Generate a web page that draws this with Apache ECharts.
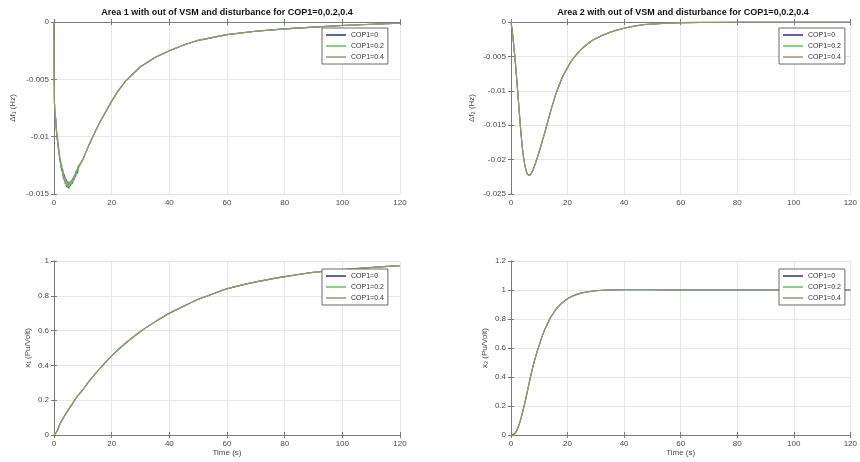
<!DOCTYPE html>
<html>
<head>
<meta charset="utf-8">
<script src="https://cdn.jsdelivr.net/npm/echarts@6/dist/echarts.min.js"></script>
<style>html,body{margin:0;padding:0;background:#fff}#c{width:860px;height:462px}</style>
</head>
<body>
<div id="c"></div>
<script>
// ---------- data ----------
const seriesNames = ['COP1=0', 'COP1=0.2', 'COP1=0.4'];
const xTicks = [0, 20, 40, 60, 80, 100, 120];

// Area 1 frequency deviation
const tA1 = [0, 0.05, 0.15, 0.3, 0.6, 0.9, 1.2, 1.5, 1.8, 2.1, 2.4, 2.7, 3.0, 3.3, 3.6, 3.9, 4.2, 4.5, 4.8, 5.1, 5.4, 5.7, 6.0, 6.3, 6.6, 6.9, 7.2, 7.5, 7.8, 8.1, 8.4, 8.7, 9.0, 10, 12, 14, 16, 18, 20, 22, 25, 30, 35, 40, 45, 50, 60, 70, 80, 90, 100, 110, 120];
const dF1_c0 = [0, -0.0045, -0.0070, -0.0080, -0.0084, -0.0097, -0.0098, -0.0110, -0.0110, -0.0121, -0.0120, -0.0130, -0.0128, -0.0137, -0.0133, -0.0141, -0.0137, -0.0144, -0.0139, -0.0145, -0.0140, -0.0143, -0.0138, -0.0141, -0.0136, -0.0138, -0.0133, -0.0135, -0.0129, -0.0132, -0.0126, -0.0127, -0.0124, -0.0120, -0.0108, -0.0097, -0.0087, -0.0078, -0.0069, -0.0061, -0.0051, -0.0039, -0.0031, -0.0025, -0.0020, -0.0016, -0.0011, -0.0008, -0.0006, -0.00045, -0.0003, -0.0002, -0.0001];
const dF1_c2 = [0, -0.0045, -0.0070, -0.0076, -0.0090, -0.0091, -0.0104, -0.0104, -0.0116, -0.0115, -0.0126, -0.0124, -0.0134, -0.0131, -0.0139, -0.0135, -0.0143, -0.0138, -0.0145, -0.0139, -0.0145, -0.0139, -0.0142, -0.0137, -0.0140, -0.0134, -0.0137, -0.0131, -0.0133, -0.0128, -0.0130, -0.0125, -0.0125, -0.0120, -0.0108, -0.0097, -0.0087, -0.0078, -0.0069, -0.0061, -0.0051, -0.0039, -0.0031, -0.0025, -0.0020, -0.0016, -0.0011, -0.0008, -0.0006, -0.00045, -0.0003, -0.0002, -0.0001];
const dF1_c4 = [0, -0.0045, -0.0070, -0.0078, -0.0086, -0.0095, -0.0100, -0.0108, -0.0112, -0.0119, -0.0122, -0.0128, -0.0130, -0.0135, -0.0135, -0.0139, -0.0139, -0.0142, -0.0141, -0.0143, -0.0141, -0.0142, -0.0139, -0.0140, -0.0137, -0.0137, -0.0134, -0.0134, -0.0130, -0.0131, -0.0127, -0.0126, -0.0125, -0.0120, -0.0108, -0.0097, -0.0087, -0.0078, -0.0069, -0.0061, -0.0051, -0.0039, -0.0031, -0.0025, -0.0020, -0.0016, -0.0011, -0.0008, -0.0006, -0.00045, -0.0003, -0.0002, -0.0001];
const yTicksA1 = [-0.015, -0.01, -0.005, 0];

// Area 2 frequency deviation
const tA2 = [0, 0.5, 1, 1.5, 2, 2.5, 3, 3.5, 4, 4.5, 5, 5.5, 6, 6.5, 7, 8, 9, 10, 11, 12, 13, 14, 15, 16, 18, 20, 22, 25, 28, 30, 35, 40, 45, 50, 60, 70, 80, 100, 120];
const dF2 = [0, -0.0015, -0.0035, -0.0057, -0.0082, -0.0108, -0.0135, -0.0160, -0.0182, -0.0198, -0.0210, -0.0218, -0.0222, -0.0223, -0.0221, -0.0213, -0.0201, -0.0188, -0.0174, -0.0160, -0.0145, -0.0130, -0.0116, -0.0103, -0.0082, -0.0066, -0.0053, -0.0039, -0.0029, -0.0024, -0.0015, -0.0009, -0.0005, -0.0003, -0.0001, -0.00005, 0, 0, 0];
const yTicksA2 = [-0.025, -0.02, -0.015, -0.01, -0.005, 0];

// Area 1 state x1
const tB1 = [0, 1, 2, 4, 6, 8, 10, 12, 15, 20, 25, 30, 35, 40, 45, 50, 55, 60, 70, 80, 90, 100, 110, 120];
const x1 = [0, 0.02, 0.06, 0.12, 0.17, 0.22, 0.26, 0.305, 0.365, 0.455, 0.53, 0.595, 0.65, 0.70, 0.74, 0.78, 0.81, 0.84, 0.88, 0.91, 0.935, 0.95, 0.963, 0.973];
const yTicksB1 = [0, 0.2, 0.4, 0.6, 0.8, 1];

// Area 2 state x2
const tB2 = [0, 1, 2, 3, 4, 5, 6, 7, 8, 9, 10, 11, 12, 13, 14, 15, 16, 18, 20, 22, 25, 28, 30, 35, 40, 50, 60, 80, 100, 120];
const x2 = [0, 0.005, 0.03, 0.08, 0.15, 0.23, 0.32, 0.41, 0.49, 0.56, 0.62, 0.68, 0.73, 0.77, 0.81, 0.84, 0.87, 0.91, 0.94, 0.96, 0.98, 0.99, 0.995, 1.0, 1.002, 1.002, 1.0, 1.0, 1.0, 1.0];
const yTicksB2 = [0, 0.2, 0.4, 0.6, 0.8, 1, 1.2];

const titles = ['Area 1 with out of VSM and disturbance for COP1=0,0.2,0.4', 'Area 2 with out of VSM and disturbance for COP1=0,0.2,0.4'];
const yNames = ['\u0394f\u2081 (Hz)', '\u0394f\u2082 (Hz)', 'x\u2081 (Pu/Volt)', 'x\u2082 (Pu/Volt)'];
const xName = 'Time (s)';

// ---------- chart ----------
const FONT = 'Liberation Sans, Arial, Helvetica, sans-serif';
const colors = ['#2e2e9e', '#5cc35c', '#9c9672'];
const grids = [
  {left: 54, top: 22, width: 346, height: 172},
  {left: 511, top: 22, width: 345, height: 172},
  {left: 54, top: 261, width: 346, height: 174},
  {left: 511, top: 261, width: 345, height: 174}
];
const yRanges = [
  {min: -0.015, max: 0, interval: 0.005},
  {min: -0.025, max: 0, interval: 0.005},
  {min: 0, max: 1, interval: 0.2},
  {min: 0, max: 1.2, interval: 0.2}
];
const nameGaps = [37, 35, 22, 22];
const axisCol = '#7a7a7a';
const labelCol = '#4a4a4a';

const xAxes = [], yAxes = [];
grids.forEach((g, i) => {
  xAxes.push({
    type: 'value', gridIndex: i, min: 0, max: 120, interval: 20,
    axisLine: {show: true, lineStyle: {color: axisCol, width: 1}},
    axisTick: {show: true, inside: true, length: 3, lineStyle: {color: axisCol}},
    axisLabel: {fontSize: 8, color: labelCol, margin: 5, fontFamily: FONT},
    splitLine: {show: true, lineStyle: {color: '#e6e6e6', width: 1}},
    name: i >= 2 ? xName : '', nameLocation: 'middle', nameGap: 13,
    nameTextStyle: {fontSize: 8, color: labelCol, fontFamily: FONT}
  });
  xAxes.push({
    type: 'value', gridIndex: i, min: 0, max: 120, interval: 20, position: 'top',
    axisLine: {show: true, lineStyle: {color: axisCol, width: 1}},
    axisTick: {show: true, inside: true, length: 3, lineStyle: {color: axisCol}},
    axisLabel: {show: false}, splitLine: {show: false}
  });
  const r = yRanges[i];
  yAxes.push({
    type: 'value', gridIndex: i, min: r.min, max: r.max, interval: r.interval,
    axisLine: {show: true, lineStyle: {color: axisCol, width: 1}},
    axisTick: {show: true, inside: true, length: 3, lineStyle: {color: axisCol}},
    axisLabel: {fontSize: 8, color: labelCol, margin: 5, fontFamily: FONT},
    splitLine: {show: true, lineStyle: {color: '#e6e6e6', width: 1}},
    name: yNames[i], nameLocation: 'middle', nameGap: nameGaps[i], nameRotate: 90,
    nameTextStyle: {fontSize: 8, color: labelCol, fontFamily: FONT}
  });
  yAxes.push({
    type: 'value', gridIndex: i, min: r.min, max: r.max, interval: r.interval, position: 'right',
    axisLine: {show: true, lineStyle: {color: axisCol, width: 1}},
    axisTick: {show: true, inside: true, length: 3, lineStyle: {color: axisCol}},
    axisLabel: {show: false}, splitLine: {show: false}
  });
});

const pairs = (t, v) => t.map((x, k) => [x, v[k]]);
const panelData = [
  [pairs(tA1, dF1_c0), pairs(tA1, dF1_c2), pairs(tA1, dF1_c4)],
  [pairs(tA2, dF2), pairs(tA2, dF2), pairs(tA2, dF2)],
  [pairs(tB1, x1), pairs(tB1, x1), pairs(tB1, x1)],
  [pairs(tB2, x2), pairs(tB2, x2), pairs(tB2, x2)]
];
const series = [];
panelData.forEach((arr, i) => {
  arr.forEach((d, s) => {
    series.push({
      type: 'line', name: seriesNames[s], xAxisIndex: i * 2, yAxisIndex: i * 2,
      data: d, symbol: 'none', smooth: i === 0 ? false : 0.3,
      lineStyle: {color: colors[s], width: s === 2 ? 1.2 : 1.1},
      itemStyle: {color: colors[s]}, animation: false
    });
  });
});

const legendPos = [
  {left: 322, top: 28}, {left: 779, top: 28}, {left: 322, top: 269}, {left: 779, top: 269}
];
const legends = legendPos.map(p => ({
  data: seriesNames.map(n => ({name: n, icon: 'rect'})), orient: 'vertical', left: p.left, top: p.top,
  itemWidth: 20, itemHeight: 1.5, itemGap: 3, padding: [3, 4, 3, 4],
  backgroundColor: '#fff', borderColor: '#6a6a6a', borderWidth: 1,
  textStyle: {fontSize: 7, color: '#333', fontFamily: FONT, lineHeight: 8}, selectedMode: false
}));

const chart = echarts.init(document.getElementById('c'), null, {renderer: 'canvas'});
chart.setOption({
  backgroundColor: '#fff',
  animation: false,
  grid: grids,
  xAxis: xAxes,
  yAxis: yAxes,
  legend: legends,
  series: series,
  graphic: [
    {type: 'text', x: 227, y: 13, style: {text: titles[0], font: 'bold 9px ' + FONT, fill: '#111', align: 'center', verticalAlign: 'middle'}},
    {type: 'text', x: 683, y: 13, style: {text: titles[1], font: 'bold 9px ' + FONT, fill: '#111', align: 'center', verticalAlign: 'middle'}}
  ]
});
</script>
</body>
</html>
